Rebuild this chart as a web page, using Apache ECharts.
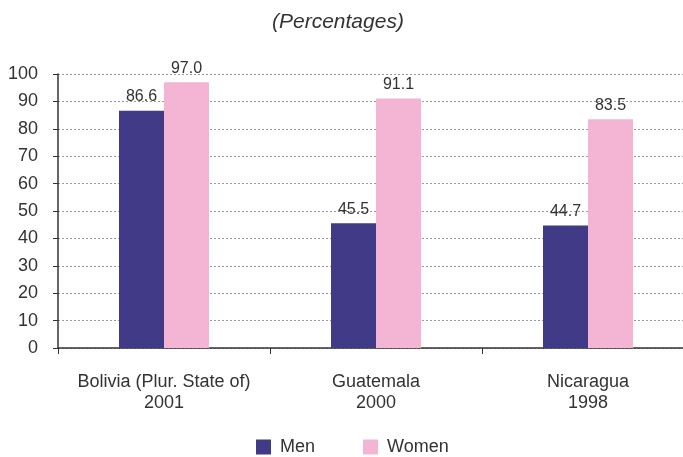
<!DOCTYPE html>
<html>
  <head>
    <meta charset="utf-8" />
    <title>ECharts</title>
    <style type="text/css">
      html, body { margin: 0; padding: 0; background: #fff; overflow: hidden; }
      #main { width: 700px; height: 457px; }
    </style>
    <script type="text/javascript" src="https://cdn.jsdelivr.net/npm/echarts@6/dist/echarts.min.js"></script>
  </head>
  <body>
    <div id="main"></div>
    <script type="text/javascript">
    var categories = ['Bolivia (Plur. State of)\n2001', 'Guatemala\n2000', 'Nicaragua\n1998'];
    var men = [86.6, 45.5, 44.7];
    var women = [97.0, 91.1, 83.5];
    var yTicks = [0, 100, 10];

    // the plot runs a little past the right edge of the picture
    var dom = document.getElementById('main');
    var myChart = echarts.init(dom);

    var labelStyle = {
      show: true,
      position: 'top',
      distance: 6,
      color: '#333',
      fontSize: 16,
      fontFamily: 'Liberation Sans',
      formatter: function (p) { return p.value.toFixed(1); }
    };

    var option = {
      animation: false,
      title: {
        text: '(Percentages)',
        left: 272,
        top: 12,
        padding: 0,
        textStyle: {
          fontStyle: 'italic',
          fontWeight: 'normal',
          fontSize: 21,
          color: '#333',
          fontFamily: 'Liberation Sans'
        }
      },
      legend: {
        bottom: 1,
        left: 256,
        padding: 0,
        itemWidth: 15,
        itemHeight: 15,
        itemGap: 48,
        icon: 'rect',
        textStyle: { fontSize: 18, color: '#333', fontFamily: 'Liberation Sans', padding: [0, 0, 0, 4] },
        data: ['Men', 'Women']
      },
      grid: { left: 58, right: 6, top: 74, bottom: 109, containLabel: false },
      xAxis: {
        type: 'category',
        data: categories,
        axisLine: { lineStyle: { color: '#333', width: 1.5 } },
        axisTick: { show: true, length: 6, lineStyle: { color: '#333' } },
        axisLabel: {
          interval: 0,
          color: '#333',
          fontSize: 18,
          lineHeight: 21,
          margin: 24,
          fontFamily: 'Liberation Sans'
        }
      },
      yAxis: {
        type: 'value',
        min: yTicks[0],
        max: yTicks[1],
        interval: yTicks[2],
        axisLine: { show: true, lineStyle: { color: '#333', width: 1.5 } },
        axisTick: { show: true, length: 5, lineStyle: { color: '#333' } },
        axisLabel: { color: '#333', fontSize: 18, margin: 20, fontFamily: 'Liberation Sans' },
        splitLine: { lineStyle: { color: '#999', type: [2, 2], width: 1 } }
      },
      series: [
        {
          name: 'Men',
          type: 'bar',
          data: men,
          barWidth: 45,
          barGap: '0%',
          itemStyle: { color: '#403a87' },
          label: labelStyle
        },
        {
          name: 'Women',
          type: 'bar',
          data: women,
          barWidth: 45,
          itemStyle: { color: '#f4b5d4' },
          label: labelStyle
        }
      ]
    };

    myChart.setOption(option);
    </script>
  </body>
</html>
